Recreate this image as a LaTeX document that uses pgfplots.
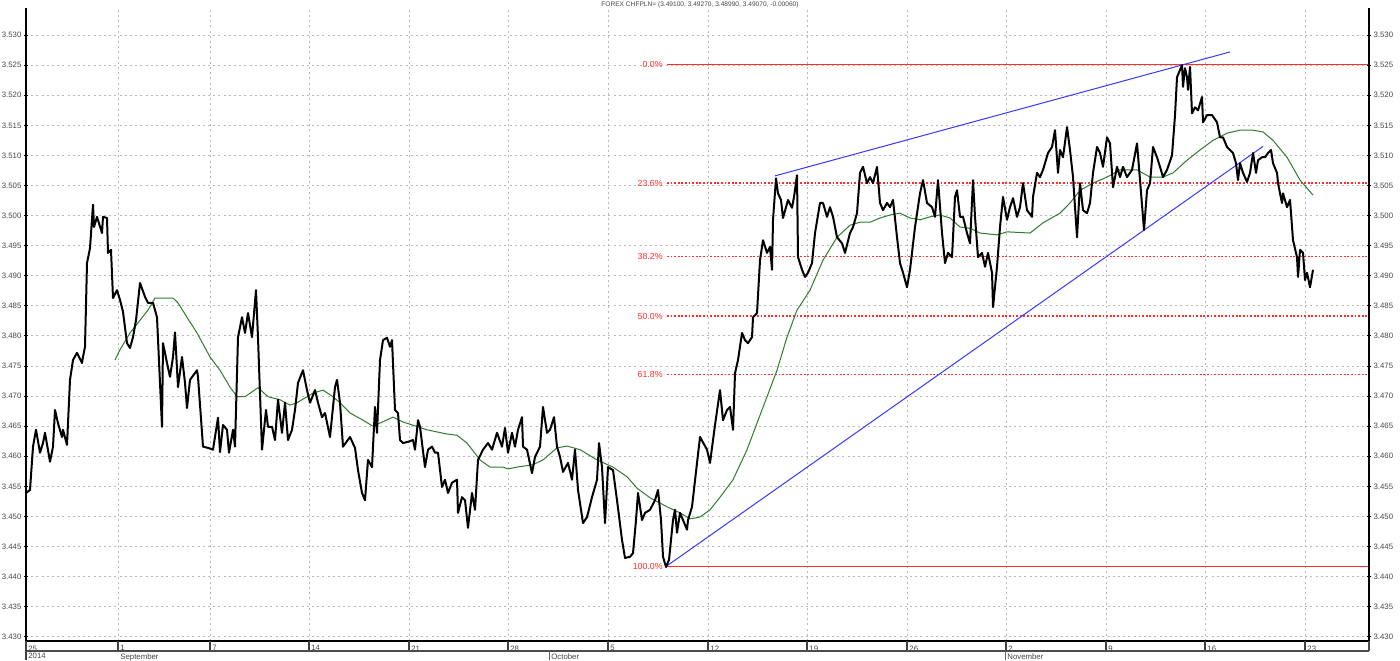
\documentclass[border=0pt]{standalone}
\usepackage{fontspec}
\setmainfont{Liberation Sans}
\usepackage{pgfplots}
\pgfplotsset{compat=1.18}
\definecolor{gridc}{RGB}{185,185,185}
\definecolor{fibred}{RGB}{255,45,45}
\definecolor{trendblue}{RGB}{55,55,255}
\definecolor{magreen}{RGB}{45,125,45}
\definecolor{labc}{RGB}{70,70,70}

\pgfplotstableread{
x y
26 3.4539
30 3.4544
33 3.4616
36 3.4644
40 3.4606
43 3.4622
45 3.4639
50 3.4591
53 3.4616
55 3.4677
58 3.4655
62 3.4632
63 3.4644
67 3.4619
70 3.4727
73 3.4760
77 3.4772
82 3.4755
83 3.4765
85 3.4782
87 3.4921
90 3.4946
93 3.5018
94 3.4981
97 3.4998
102 3.4971
103 3.4998
107 3.4996
108 3.4938
111 3.4943
113 3.4863
117 3.4876
120 3.4860
123 3.4840
127 3.4788
130 3.4780
133 3.4798
136 3.4826
140 3.4888
145 3.4865
148 3.4855
153 3.4855
157 3.4831
162 3.4649
163 3.4788
167 3.4755
170 3.4732
173 3.4765
175 3.4806
178 3.4715
182 3.4765
185 3.4722
187 3.4680
190 3.4727
197 3.4743
198 3.4732
203 3.4616
208 3.4614
213 3.4611
218 3.4664
220 3.4607
223 3.4652
227 3.4644
229 3.4606
233 3.4644
235 3.4616
238 3.4798
242 3.4831
245 3.4805
248 3.4838
252 3.4798
256 3.4876
258 3.4797
262 3.4611
266 3.4677
268 3.4649
272 3.4649
275 3.4627
278 3.4694
282 3.4639
285 3.4689
288 3.4627
292 3.4644
295 3.4677
298 3.4722
303 3.4743
307 3.4710
310 3.4689
315 3.4710
318 3.4689
322 3.4665
325 3.4672
330 3.4632
335 3.4715
337 3.4727
340 3.4689
343 3.4616
350 3.4632
355 3.4614
358 3.4577
362 3.4539
365 3.4527
368 3.4594
372 3.4582
375 3.4682
377 3.4639
380 3.4760
383 3.4793
387 3.4797
390 3.4782
392 3.4793
395 3.4677
398 3.4672
400 3.4627
403 3.4622
408 3.4624
413 3.4627
415 3.4611
418 3.4660
420 3.4649
425 3.4582
428 3.4611
432 3.4616
435 3.4606
438 3.4606
442 3.4549
445 3.4561
448 3.4539
452 3.4556
457 3.4561
458 3.4506
462 3.4532
465 3.4527
468 3.4481
472 3.4539
475 3.4511
478 3.4594
483 3.4611
488 3.4622
492 3.4611
497 3.4639
502 3.4616
505 3.4647
508 3.4606
512 3.4639
515 3.4616
518 3.4644
522 3.4665
523 3.4616
527 3.4611
532 3.4572
535 3.4599
540 3.4616
543 3.4682
547 3.4639
550 3.4644
554 3.4665
557 3.4616
560 3.4599
563 3.4574
568 3.4589
572 3.4561
575 3.4611
578 3.4544
583 3.4489
587 3.4499
592 3.4532
597 3.4561
599 3.4622
602 3.4582
605 3.4489
608 3.4582
613 3.4577
617 3.4527
622 3.4461
625 3.4431
630 3.4433
633 3.4439
636 3.4494
638 3.4539
642 3.4494
645 3.4506
650 3.4511
655 3.4527
658 3.4544
661 3.4494
663 3.4433
666 3.4416
669 3.4428
673 3.4494
675 3.4511
677 3.4473
680 3.4506
683 3.4494
687 3.4478
688 3.4494
692 3.4516
697 3.4589
700 3.4632
707 3.4611
710 3.4589
715 3.4652
720 3.4710
723 3.4660
727 3.4677
730 3.4682
733 3.4644
735 3.4738
738 3.4760
742 3.4805
745 3.4793
748 3.4788
752 3.4798
753 3.4831
757 3.4838
760 3.4926
763 3.4959
767 3.4938
770 3.4948
772 3.4910
773 3.4993
776 3.5062
778 3.5037
781 3.5026
783 3.4996
788 3.5026
792 3.5013
794 3.5031
797 3.5067
798 3.4931
802 3.4910
805 3.4898
808 3.4905
812 3.4921
815 3.4971
820 3.5021
823 3.5021
827 3.4998
830 3.5014
833 3.4998
837 3.4964
842 3.4954
845 3.4938
850 3.4971
853 3.4981
857 3.5004
860 3.5071
863 3.5081
867 3.5054
870 3.5064
873 3.5054
877 3.5081
880 3.5021
883 3.5009
887 3.5021
890 3.5014
893 3.5026
897 3.4964
900 3.4921
903 3.4905
907 3.4881
910 3.4910
915 3.4981
920 3.5037
923 3.5059
927 3.5021
932 3.5014
935 3.4998
938 3.5059
942 3.4971
945 3.4921
948 3.4938
952 3.4931
955 3.5031
957 3.5042
960 3.4998
963 3.4998
967 3.4971
970 3.4954
973 3.5059
975 3.4998
978 3.4931
982 3.4938
985 3.4915
988 3.4938
992 3.4905
993 3.4848
997 3.4915
1000 3.4981
1003 3.5031
1007 3.4993
1010 3.5014
1013 3.5029
1017 3.4998
1020 3.5014
1023 3.5054
1027 3.5009
1032 3.4998
1033 3.5031
1037 3.5071
1040 3.5064
1043 3.5076
1048 3.5104
1052 3.5114
1055 3.5142
1058 3.5071
1060 3.5109
1063 3.5097
1067 3.5147
1070 3.5109
1073 3.5064
1077 3.4964
1080 3.5054
1083 3.5009
1087 3.5004
1090 3.5021
1093 3.5071
1097 3.5114
1100 3.5104
1103 3.5081
1107 3.5130
1110 3.5120
1113 3.5047
1117 3.5081
1120 3.5064
1123 3.5081
1127 3.5064
1132 3.5076
1137 3.5120
1140 3.5059
1144 3.4976
1147 3.5042
1150 3.5054
1153 3.5114
1157 3.5097
1160 3.5081
1163 3.5064
1167 3.5076
1172 3.5100
1175 3.5167
1177 3.5230
1180 3.5242
1182 3.5250
1183 3.5214
1185 3.5245
1187 3.5230
1188 3.5209
1190 3.5247
1192 3.5170
1195 3.5180
1198 3.5175
1202 3.5197
1203 3.5155
1207 3.5167
1212 3.5167
1217 3.5155
1220 3.5130
1223 3.5130
1227 3.5114
1230 3.5109
1233 3.5104
1236 3.5087
1238 3.5059
1240 3.5087
1243 3.5071
1247 3.5056
1250 3.5071
1253 3.5104
1256 3.5071
1258 3.5092
1262 3.5097
1265 3.5097
1268 3.5104
1271 3.5109
1273 3.5087
1277 3.5071
1278 3.5054
1280 3.5037
1282 3.5021
1283 3.5037
1287 3.5014
1290 3.5026
1293 3.4959
1297 3.4931
1298 3.4898
1300 3.4943
1303 3.4938
1305 3.4893
1307 3.4905
1310 3.4881
1313 3.4910
}\pricetable

\pgfplotstableread{
x y
115 3.4760
120 3.4777
130 3.4805
140 3.4826
148 3.4843
155 3.4863
160 3.4863
173 3.4863
178 3.4855
187 3.4831
197 3.4805
210 3.4765
220 3.4743
230 3.4715
237 3.4699
245 3.4699
258 3.4714
268 3.4699
280 3.4694
290 3.4685
297 3.4689
307 3.4699
313 3.4705
323 3.4710
333 3.4699
340 3.4689
350 3.4672
363 3.4660
373 3.4650
393 3.4665
403 3.4657
427 3.4644
447 3.4637
457 3.4635
467 3.4622
480 3.4594
490 3.4582
503 3.4582
508 3.4579
517 3.4582
533 3.4586
543 3.4594
557 3.4614
567 3.4617
580 3.4611
597 3.4594
613 3.4582
627 3.4566
637 3.4547
650 3.4531
667 3.4516
680 3.4506
690 3.4496
700 3.4499
710 3.4511
720 3.4532
733 3.4561
747 3.4611
757 3.4655
767 3.4699
777 3.4743
787 3.4798
797 3.4843
810 3.4876
823 3.4926
837 3.4964
850 3.4984
860 3.4989
870 3.4989
880 3.4996
890 3.5001
900 3.5004
910 3.4996
920 3.4993
930 3.4998
940 3.5001
950 3.4996
960 3.4981
970 3.4979
980 3.4971
997 3.4968
1007 3.4973
1030 3.4971
1043 3.4988
1060 3.5004
1070 3.5021
1080 3.5042
1093 3.5054
1107 3.5064
1120 3.5076
1137 3.5076
1150 3.5064
1163 3.5064
1173 3.5071
1187 3.5092
1200 3.5109
1213 3.5125
1227 3.5137
1240 3.5142
1253 3.5142
1263 3.5139
1273 3.5125
1287 3.5097
1300 3.5059
1313 3.5034
}\matable

\pgfplotsset{
  common/.style={
    at={(13pt,9.5pt)}, anchor=south west,
    width=671.5pt, height=316.5pt, scale only axis,
    xmin=26, xmax=1369, ymin=3.4293, ymax=3.5345,
    ytick={3.430,3.435,3.440,3.445,3.450,3.455,3.460,3.465,3.470,3.475,3.480,3.485,3.490,3.495,3.500,3.505,3.510,3.515,3.520,3.525,3.530},
    minor y tick num=4,
    tick align=outside,
    major tick length=2.2pt,
    minor tick length=1.2pt,
    tick style={black, line width=0.5pt},
    /pgf/number format/assume math mode=true,
    yticklabel style={font=\fontsize{3.9}{4}\selectfont, text=labc, inner sep=1pt,
      /pgf/number format/.cd, fixed, fixed zerofill, precision=3},
    clip=false,
  },
  nolinearrows/.style={
    axis line style={-, black, line width=0.6pt},
    x axis line style={-}, y axis line style={-},
    every outer x axis line/.append style={-},
    every outer y axis line/.append style={-},
    every inner x axis line/.append style={-},
    every inner y axis line/.append style={-},
  }
}

\begin{document}
\begin{tikzpicture}
\useasboundingbox (0,0) rectangle (700pt,330pt);
\begin{axis}[common,
  axis x line=bottom, axis y line=left, nolinearrows,
  xtick={26,118,210,309,409,508,608,708,807,907,1006,1106,1205,1305},
  xticklabels={25,1,7,14,21,28,5,12,19,26,2,9,16,23},
  xticklabel style={anchor=north west, font=\fontsize{3.9}{4}\selectfont, text=labc, inner sep=0pt, xshift=1pt, yshift=-1pt},
  major x tick style={draw=none},
  xmajorgrids, ymajorgrids,
  grid style={gridc, line width=0.45pt, dash pattern=on 1pt off 1.6pt},
]
% Fibonacci levels
\addplot[fibred, line width=0.6pt] coordinates {(667,3.5251) (1369,3.5251)};
\addplot[fibred, line width=0.8pt, dash pattern=on 0.9pt off 0.9pt] coordinates {(667,3.5054) (1369,3.5054)};
\addplot[fibred, line width=0.8pt, dash pattern=on 0.9pt off 0.9pt] coordinates {(667,3.4932) (1369,3.4932)};
\addplot[fibred, line width=0.8pt, dash pattern=on 0.9pt off 0.9pt] coordinates {(667,3.4833) (1369,3.4833)};
\addplot[fibred, line width=0.8pt, dash pattern=on 0.9pt off 0.9pt] coordinates {(667,3.4736) (1369,3.4736)};
\addplot[fibred, line width=0.6pt] coordinates {(667,3.4417) (1369,3.4417)};
% trend lines
\addplot[trendblue, line width=0.5pt] coordinates {(775,3.5066) (1230,3.5272)};
\addplot[trendblue, line width=0.5pt] coordinates {(667,3.4418) (1263,3.5115)};
% moving average
\addplot[magreen, line width=0.5pt] table {\matable};
% price
\addplot[black, line width=1pt, line join=round] table {\pricetable};

\begin{scope}[every node/.style={font=\fontsize{4.4}{5}\selectfont, text=fibred, anchor=east, inner sep=0pt}]
\node at (axis cs:663,3.5251) {0.0\%};
\node at (axis cs:663,3.5054) {23.6\%};
\node at (axis cs:663,3.4932) {38.2\%};
\node at (axis cs:663,3.4833) {50.0\%};
\node at (axis cs:663,3.4736) {61.8\%};
\node at (axis cs:663,3.4417) {100.0\%};
\end{scope}

\node[font=\fontsize{3.3}{4}\selectfont, text=labc, inner sep=0pt] at (axis cs:700,3.5350) {FOREX CHFPLN= (3.49100, 3.49270, 3.48990, 3.49070, -0.00060)};

% date strip
\pgfplotsinvokeforeach{118,210,309,409,508,608,708,807,907,1006,1106,1205,1305}{
  \draw[black!75, line width=0.8pt] (axis cs:#1,3.4293) -- ([yshift=-5pt]axis cs:#1,3.4293);
}
\draw[black!70, line width=0.9pt] ([yshift=-5pt]axis cs:26,3.4293) -- ([yshift=-5pt]axis cs:1369,3.4293);
\draw[black!70, line width=0.6pt] (axis cs:1369,3.4293) -- ([yshift=-5pt]axis cs:1369,3.4293);
\draw[black!75, line width=0.6pt] (axis cs:26,3.4293) -- ([yshift=-9.5pt]axis cs:26,3.4293);
\draw[black!60, line width=0.4pt] ([yshift=-5pt]axis cs:549,3.4293) -- ([yshift=-9.5pt]axis cs:549,3.4293);
\draw[black!60, line width=0.4pt] ([yshift=-5pt]axis cs:1005,3.4293) -- ([yshift=-9.5pt]axis cs:1005,3.4293);
\begin{scope}[every node/.style={font=\fontsize{3.9}{4}\selectfont, text=labc, anchor=north west, inner sep=0pt}]
\node at ([yshift=-6pt]axis cs:28,3.4293) {2014};
\node at ([yshift=-6pt]axis cs:120,3.4293) {September};
\node at ([yshift=-6pt]axis cs:551,3.4293) {October};
\node at ([yshift=-6pt]axis cs:1007,3.4293) {November};
\end{scope}
\end{axis}

\begin{axis}[common,
  axis x line=none, axis y line=right, nolinearrows,
]
\end{axis}
\end{tikzpicture}
\end{document}
